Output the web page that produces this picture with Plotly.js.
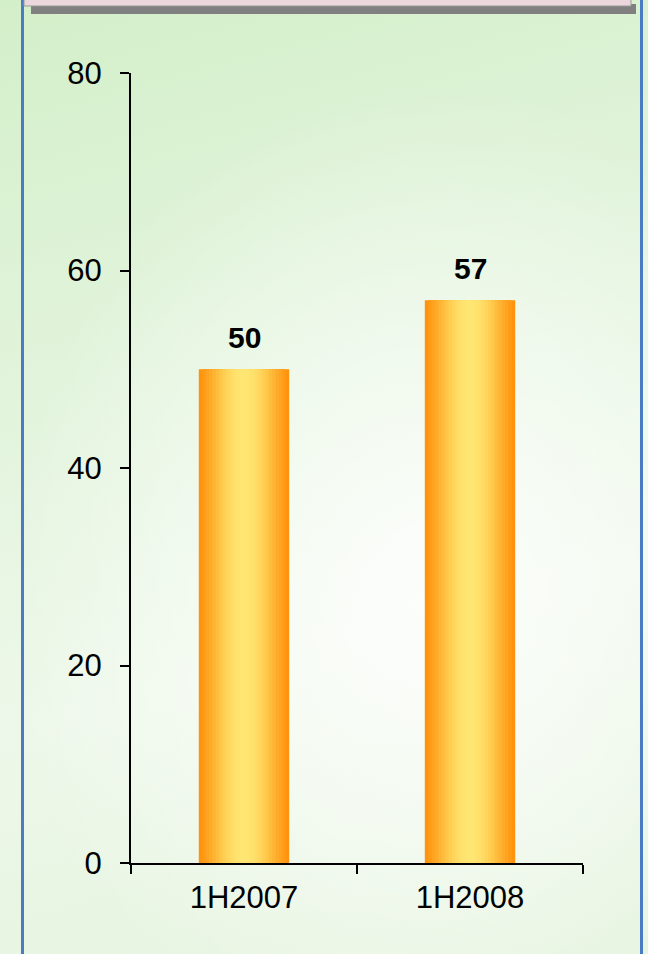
<!DOCTYPE html>
<html>
<head>
<meta charset="utf-8">
<script src="https://cdn.plot.ly/plotly-3.0.1.min.js"></script>
<style>
html,body{margin:0;padding:0;}
body{width:648px;height:954px;overflow:hidden;
background:
 radial-gradient(ellipse 420px 520px at 430px 600px, rgba(255,255,255,0.85) 0%, rgba(255,255,255,0.4) 55%, rgba(255,255,255,0) 100%),
 linear-gradient(165deg, #d3efc9 0%, #e2f4dc 35%, #eef8ea 65%, #e3f3dc 100%);}
#chart{width:648px;height:954px;}
</style>
</head>
<body>
<div id="chart"></div>
<script>
const categories = ["1H2007", "1H2008"];
const values = [50, 57];
const valueLabels = ["50", "57"];
const yTicks = [0, 20, 40, 60, 80];

// gradient simulation: nested overlay bars from edge (dark orange) to center (light yellow)
const layerWidths = [0.40, 0.37, 0.34, 0.31, 0.28, 0.25, 0.22, 0.19, 0.16, 0.13, 0.10, 0.07, 0.04];
const layerColors = ["#ff930e", "#ff9b16", "#ffa320", "#ffab2a", "#ffb434", "#ffbd3e", "#ffc648", "#ffce52", "#ffd55b", "#ffdb63", "#ffe06a", "#ffe36f", "#ffe672"];

const traces = layerWidths.map((w, i) => ({
  type: "bar",
  x: categories,
  y: values,
  width: categories.map(() => w),
  marker: {color: layerColors[i], line: {width: 0}},
  hoverinfo: "skip",
  showlegend: false
}));

const annotations = categories.map((c, i) => ({
  x: c, y: values[i], text: "<b>" + valueLabels[i] + "</b>",
  showarrow: false, yanchor: "middle", yshift: 32,
  font: {family: "Liberation Sans, Arial, sans-serif", size: 30, color: "#000"}
}));

const layout = {
  width: 648, height: 954,
  margin: {l: 131, r: 65, t: 73, b: 91},
  paper_bgcolor: "rgba(0,0,0,0)",
  plot_bgcolor: "rgba(0,0,0,0)",
  barmode: "overlay",
  showlegend: false,
  font: {family: "Liberation Sans, Arial, sans-serif", size: 31, color: "#000"},
  xaxis: {
    type: "category",
    showline: true, linecolor: "#000", linewidth: 2,
    ticks: "outside", tickson: "boundaries", ticklen: 9, tickwidth: 2, tickcolor: "#000",
    showgrid: false, zeroline: false,
    ticklabelstandoff: 6,
    tickfont: {size: 31}
  },
  yaxis: {
    range: [0, 80],
    tickvals: yTicks,
    showline: true, linecolor: "#000", linewidth: 2,
    ticks: "outside", ticklen: 9, tickwidth: 2, tickcolor: "#000",
    showgrid: false, zeroline: false,
    ticklabelstandoff: 12,
    tickfont: {size: 31}
  },
  annotations: annotations
};

Plotly.newPlot("chart", traces, layout, {displayModeBar: false, staticPlot: true}).then(gd => {
  const L = 131, R = 583, T = 73, B = 863;
  const fx = v => (v - L) / (R - L), fy = v => (B - v) / (B - T);
  const paperShapes = [
    {type: "rect", xref: "paper", yref: "paper", x0: fx(21), x1: fx(24), y0: fy(960), y1: fy(-5), fillcolor: "#4a7cc4", line: {width: 0}, layer: "below"},
    {type: "rect", xref: "paper", yref: "paper", x0: fx(640), x1: fx(643), y0: fy(960), y1: fy(-5), fillcolor: "#4a7cc4", line: {width: 0}, layer: "below"},
    {type: "rect", xref: "paper", yref: "paper", x0: fx(31), x1: fx(636), y0: fy(14), y1: fy(4), fillcolor: "#808080", line: {width: 0}, layer: "below"},
    {type: "rect", xref: "paper", yref: "paper", x0: fx(24), x1: fx(631), y0: fy(6), y1: fy(-5), fillcolor: "#ecd8dc", line: {width: 1, color: "#9a9a9a"}, layer: "below"}
  ];
  Plotly.relayout(gd, {shapes: paperShapes});
});
</script>
</body>
</html>
